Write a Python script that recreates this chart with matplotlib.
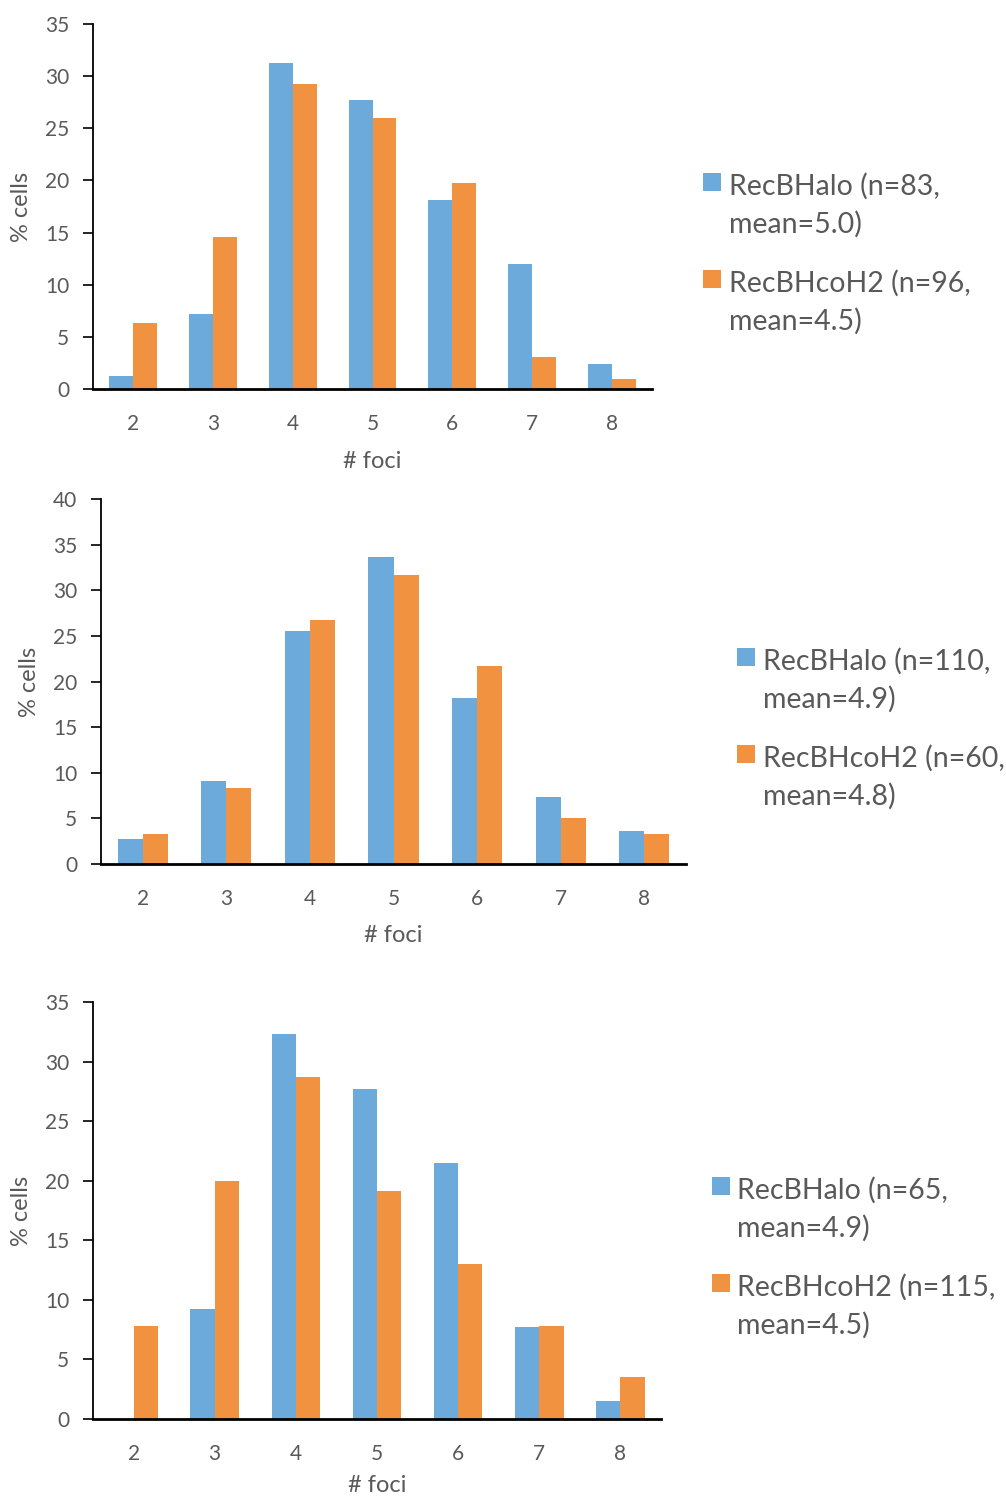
import numpy as np
import matplotlib
matplotlib.use("Agg")
from matplotlib import pyplot as plt
from matplotlib.patches import Rectangle

plt.rcParams['font.family'] = ['Lato', 'DejaVu Sans']

foci = [2, 3, 4, 5, 6, 7, 8]

# % cells per number of foci, three experiments
halo_1 = [1.2, 7.2, 31.3, 27.7, 18.1, 12.0, 2.4]
coh2_1 = [6.3, 14.6, 29.2, 26.0, 19.8, 3.1, 1.0]

halo_2 = [2.7, 9.1, 25.5, 33.6, 18.2, 7.3, 3.6]
coh2_2 = [3.3, 8.3, 26.7, 31.7, 21.7, 5.0, 3.3]

halo_3 = [0.0, 9.2, 32.3, 27.7, 21.5, 7.7, 1.5]
coh2_3 = [7.8, 20.0, 28.7, 19.1, 13.0, 7.8, 3.5]

labels_1 = ["RecBHalo (n=83,\nmean=5.0)", "RecBHcoH2 (n=96,\nmean=4.5)"]
labels_2 = ["RecBHalo (n=110,\nmean=4.9)", "RecBHcoH2 (n=60,\nmean=4.8)"]
labels_3 = ["RecBHalo (n=65,\nmean=4.9)", "RecBHcoH2 (n=115,\nmean=4.5)"]

ymax = [35, 40, 35]

BLUE = '#6BAADB'
ORANGE = '#F09240'
GREY = '#595959'

W, H = 1006, 1499
fig = plt.figure(figsize=(W / 100, H / 100), dpi=100)

# axes boxes in pixels: left, right, top, bottom
boxes = [(93, 652, 24, 389), (101, 686, 499, 864), (93, 661, 1002, 1419)]
# y-label centre x and x-label drop below the axis (pixels)
ylab_x = [22, 30, 22]
xlab_dy = [72, 72, 67]
# legend: swatch left, swatch top, text left (pixels); second entry sits 97 px lower
legends = [(703, 173, 729), (737, 648, 763), (712, 1177, 737)]
leg_step = 97
sw = 18

panels = [(halo_1, coh2_1, labels_1), (halo_2, coh2_2, labels_2), (halo_3, coh2_3, labels_3)]


def px(xp, yp):
    return xp / W, 1 - yp / H


bw = 0.3
x = np.arange(len(foci))
for i, (halo, coh2, labels) in enumerate(panels):
    l, r, t, b = boxes[i]
    ax = fig.add_axes([l / W, 1 - b / H, (r - l) / W, (b - t) / H])
    ax.bar(x - bw / 2, halo, bw, color=BLUE)
    ax.bar(x + bw / 2, coh2, bw, color=ORANGE)
    ax.set_xlim(-0.5, len(foci) - 0.5)
    ax.set_ylim(0, ymax[i])
    ax.set_yticks(np.arange(0, ymax[i] + 1, 5))
    ax.set_xticks(x)
    ax.set_xticklabels(foci)
    for s in ['top', 'right']:
        ax.spines[s].set_visible(False)
    ax.spines['left'].set_linewidth(1.3)
    ax.spines['bottom'].set_linewidth(2.0)
    ax.tick_params(axis='y', length=7, width=1.2, pad=10, labelsize=15, labelcolor=GREY)
    ax.tick_params(axis='x', length=0, pad=18, labelsize=15, labelcolor=GREY)
    ax.set_ylabel('% cells', fontsize=17, color=GREY, va='center')
    ax.set_xlabel('# foci', fontsize=17, color=GREY, va='center')
    ax.yaxis.set_label_coords((ylab_x[i] - l) / (r - l), 0.5)
    ax.xaxis.set_label_coords(0.5, -xlab_dy[i] / (b - t))

    # legend to the right of the plot
    sx, sy, tx = legends[i]
    for k, (c, lab) in enumerate(zip([BLUE, ORANGE], labels)):
        y0 = sy + k * leg_step
        fig.add_artist(Rectangle(px(sx, y0 + sw), sw / W, sw / H, transform=fig.transFigure,
                                 facecolor=c, edgecolor='none'))
        fig.text(*px(tx, y0), lab, fontsize=20.5, color=GREY, va='top', ha='left',
                 linespacing=1.5)

fig.savefig('out.png', dpi=100)
